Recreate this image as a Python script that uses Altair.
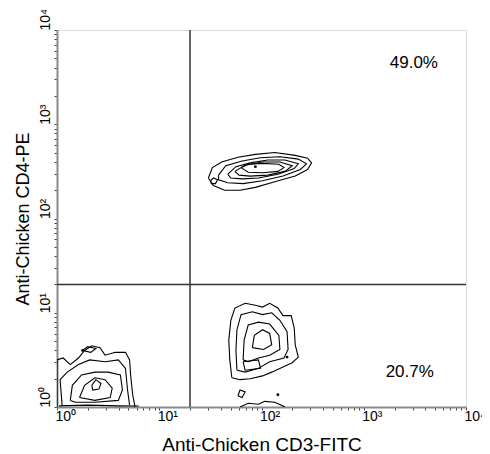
import altair as alt
import pandas as pd

# ---- contour rings, in log10 units: (log10 CD3-FITC, log10 CD4-PE)
# CD3+ CD4+ population (upper right quadrant)
TOP_1 = [(1.48, 2.43), (1.52, 2.54), (1.61, 2.60), (1.77, 2.65), (1.94, 2.68), (2.13, 2.70), (2.33, 2.67),
         (2.45, 2.64), (2.49, 2.59), (2.45, 2.52), (2.33, 2.45), (2.13, 2.39), (1.94, 2.33), (1.79, 2.30),
         (1.64, 2.30), (1.53, 2.35), (1.48, 2.43)]
TOP_2 = [(1.58, 2.46), (1.65, 2.56), (1.81, 2.61), (1.99, 2.645), (2.18, 2.655), (2.36, 2.63), (2.44, 2.58),
         (2.38, 2.52), (2.21, 2.45), (2.01, 2.40), (1.82, 2.37), (1.67, 2.38), (1.58, 2.41), (1.58, 2.46)]
TOP_3 = [(1.67, 2.47), (1.75, 2.55), (1.89, 2.59), (2.06, 2.62), (2.23, 2.62), (2.36, 2.58), (2.32, 2.53),
         (2.16, 2.47), (1.97, 2.43), (1.81, 2.42), (1.70, 2.43), (1.67, 2.47)]
TOP_4 = [(1.74, 2.50), (1.84, 2.565), (2.01, 2.60), (2.18, 2.60), (2.30, 2.56), (2.23, 2.50), (2.06, 2.46),
         (1.89, 2.45), (1.78, 2.46), (1.74, 2.50)]
TOP_5 = [(1.80, 2.54), (1.87, 2.575), (2.01, 2.585), (2.17, 2.575), (2.22, 2.54), (2.16, 2.50), (2.01, 2.485),
         (1.87, 2.49), (1.80, 2.54)]
TOP_BLOB = [(1.50, 2.40), (1.53, 2.43), (1.57, 2.41), (1.55, 2.37), (1.51, 2.37), (1.50, 2.40)]

# CD3- CD4- population (lower left quadrant)
LL_1 = [(0.00, 0.00), (0.00, 0.50), (0.06, 0.52), (0.13, 0.45), (0.21, 0.52), (0.27, 0.60), (0.34, 0.65),
        (0.42, 0.63), (0.47, 0.55), (0.57, 0.58), (0.67, 0.58), (0.71, 0.50), (0.72, 0.34), (0.74, 0.13),
        (0.76, 0.02), (0.76, 0.00)]
LL_2 = [(0.05, 0.02), (0.03, 0.29), (0.10, 0.37), (0.21, 0.45), (0.32, 0.50), (0.47, 0.48), (0.60, 0.50),
        (0.67, 0.41), (0.69, 0.18), (0.71, 0.02)]
LL_3 = [(0.13, 0.07), (0.15, 0.23), (0.24, 0.34), (0.37, 0.37), (0.50, 0.37), (0.62, 0.34), (0.64, 0.18),
        (0.60, 0.07), (0.37, 0.05), (0.18, 0.05), (0.13, 0.07)]
LL_4 = [(0.22, 0.10), (0.27, 0.23), (0.37, 0.31), (0.47, 0.29), (0.54, 0.20), (0.52, 0.10), (0.37, 0.07),
        (0.22, 0.10)]
LL_5 = [(0.34, 0.23), (0.38, 0.29), (0.43, 0.25), (0.41, 0.19), (0.35, 0.18), (0.34, 0.23)]
LL_LOOP = [(0.25, 0.60), (0.30, 0.64), (0.38, 0.62), (0.33, 0.58), (0.25, 0.60)]
LL_BASE = [(0.02, 0.012), (0.30, 0.02), (0.60, 0.012), (0.80, 0.01)]

# CD3+ CD4- population (lower right quadrant)
LR_1 = [(1.71, 0.31), (1.69, 0.50), (1.68, 0.71), (1.70, 0.92), (1.74, 1.05), (1.84, 1.10), (1.94, 1.08),
        (2.01, 1.06), (2.08, 1.10), (2.16, 1.05), (2.21, 0.97), (2.29, 0.97), (2.32, 0.84), (2.33, 0.66),
        (2.36, 0.53), (2.30, 0.47), (2.20, 0.42), (2.10, 0.37), (2.01, 0.33), (1.89, 0.30), (1.79, 0.29),
        (1.71, 0.31)]
LR_2 = [(1.76, 0.39), (1.75, 0.60), (1.76, 0.82), (1.80, 0.98), (1.91, 1.01), (2.01, 0.98), (2.10, 1.00),
        (2.18, 0.92), (2.25, 0.80), (2.26, 0.61), (2.22, 0.52), (2.08, 0.48), (1.97, 0.41), (1.84, 0.37),
        (1.76, 0.39)]
LR_3 = [(1.82, 0.50), (1.83, 0.71), (1.87, 0.87), (1.97, 0.90), (2.08, 0.88), (2.17, 0.76), (2.18, 0.61),
        (2.08, 0.55), (1.97, 0.52), (1.87, 0.48), (1.82, 0.50)]
LR_4 = [(1.91, 0.63), (1.93, 0.76), (2.01, 0.82), (2.08, 0.78), (2.10, 0.66), (2.02, 0.61), (1.91, 0.63)]
LR_SQUARE = [(1.82, 0.48), (1.97, 0.50), (1.99, 0.41), (1.84, 0.39), (1.82, 0.48)]
LR_LOOP = [(1.77, 0.12), (1.79, 0.18), (1.84, 0.16), (1.81, 0.10), (1.77, 0.12)]
LR_BASE = [(1.79, 0.0), (1.87, 0.04), (1.97, 0.03), (2.03, 0.06), (2.13, 0.05), (2.21, 0.01), (2.23, 0.0)]

DOTS = [(1.94, 2.55), (0.25, 0.60), (2.16, 0.13), (2.25, 0.53)]

RINGS = [("TOP_1", TOP_1), ("TOP_2", TOP_2), ("TOP_3", TOP_3), ("TOP_4", TOP_4), ("TOP_5", TOP_5),
         ("TOP_BLOB", TOP_BLOB), ("LL_1", LL_1), ("LL_2", LL_2), ("LL_3", LL_3), ("LL_4", LL_4),
         ("LL_5", LL_5), ("LL_LOOP", LL_LOOP), ("LL_BASE", LL_BASE), ("LR_1", LR_1), ("LR_2", LR_2),
         ("LR_3", LR_3), ("LR_4", LR_4), ("LR_SQUARE", LR_SQUARE), ("LR_LOOP", LR_LOOP), ("LR_BASE", LR_BASE)]

# quadrant gates
GATE_CD3 = 20
GATE_CD4 = 20

# quadrant percentages and where they sit (log10 units)
QUAD_TEXT = ["49.0%", "20.7%"]
QUAD_LOG_CD3 = [3.49, 3.45]
QUAD_LOG_CD4 = [3.65, 0.37]

# axis ticks
DECADES = [1, 10, 100, 1000]
MULTIPLES = [1, 2, 3, 4, 5, 6, 7, 8, 9]
MAJOR = [1, 10, 100, 1000, 10000]
MAJOR_LABELS = ["10⁰", "10¹", "10²", "10³", "10⁴"]

TICKS = [m * d for d in DECADES for m in MULTIPLES] + [10000]

rows = []
for name, pts in RINGS:
    for i, (lx, ly) in enumerate(pts):
        rows.append({"ring": name, "i": i, "cd3": 10 ** lx, "cd4": 10 ** ly})
contours = pd.DataFrame(rows)
dots = pd.DataFrame({"cd3": [10 ** p[0] for p in DOTS], "cd4": [10 ** p[1] for p in DOTS]})
quad = pd.DataFrame({"txt": QUAD_TEXT,
                     "cd3": [10 ** v for v in QUAD_LOG_CD3],
                     "cd4": [10 ** v for v in QUAD_LOG_CD4]})

label_expr = "".join(f"datum.value == {v} ? '{t}' : " for v, t in zip(MAJOR, MAJOR_LABELS)) + "''"

FONT = "Liberation Sans"
scale = alt.Scale(type="log", domain=[1, 10000], nice=False)

x_axis = alt.Axis(values=TICKS, labelExpr=label_expr, tickSize=3, tickColor="#444", tickWidth=1,
                  labelAlign="left", labelBaseline="top", labelOffset=-2, labelPadding=-1,
                  labelFont=FONT, labelFontSize=14, labelColor="black", labelOverlap=False,
                  labelFlush=False, labelBound=False,
                  domainColor="#8a8a8a", domainWidth=2, grid=False,
                  titleFont=FONT, titleFontSize=19, titleFontWeight="normal", titleColor="black",
                  titlePadding=12)
y_axis = alt.Axis(values=TICKS, labelExpr=label_expr, tickSize=3, tickColor="#444", tickWidth=1,
                  labelAngle=-90, labelAlign="left", labelBaseline="bottom", labelPadding=2,
                  labelFont=FONT, labelFontSize=14, labelColor="black", labelOverlap=False,
                  labelFlush=False, labelBound=False,
                  domainColor="#8a8a8a", domainWidth=2, grid=False,
                  titleFont=FONT, titleFontSize=18, titleFontWeight="normal", titleColor="black",
                  titlePadding=6)

lines = alt.Chart(contours).mark_line(color="black", strokeWidth=1.1, clip=True).encode(
    x=alt.X("cd3:Q", scale=scale, axis=x_axis, title="Anti-Chicken CD3-FITC"),
    y=alt.Y("cd4:Q", scale=scale, axis=y_axis, title="Anti-Chicken CD4-PE"),
    detail="ring:N",
    order="i:Q",
)

pts = alt.Chart(dots).mark_circle(color="black", size=8, opacity=1).encode(
    x="cd3:Q", y="cd4:Q"
)

vrule = alt.Chart(pd.DataFrame({"g": [GATE_CD3]})).mark_rule(color="#333", strokeWidth=1.5).encode(
    x="g:Q"
)
hrule = alt.Chart(pd.DataFrame({"g": [GATE_CD4]})).mark_rule(color="#333", strokeWidth=1.5).encode(
    y="g:Q"
)

texts = alt.Chart(quad).mark_text(font=FONT, fontSize=17, color="black", align="center",
                                  baseline="middle").encode(
    x="cd3:Q", y="cd4:Q", text="txt:N"
)

chart = alt.layer(lines, pts, vrule, hrule, texts).properties(
    width=409, height=377,
    autosize=alt.AutoSizeParams(type="none"),
    padding={"left": 49, "top": 22, "right": 16, "bottom": 46},
).configure_view(stroke="black", strokeWidth=1.5).configure(background="white")

chart.save("out.html", embed_options={"renderer": "svg", "actions": False})
